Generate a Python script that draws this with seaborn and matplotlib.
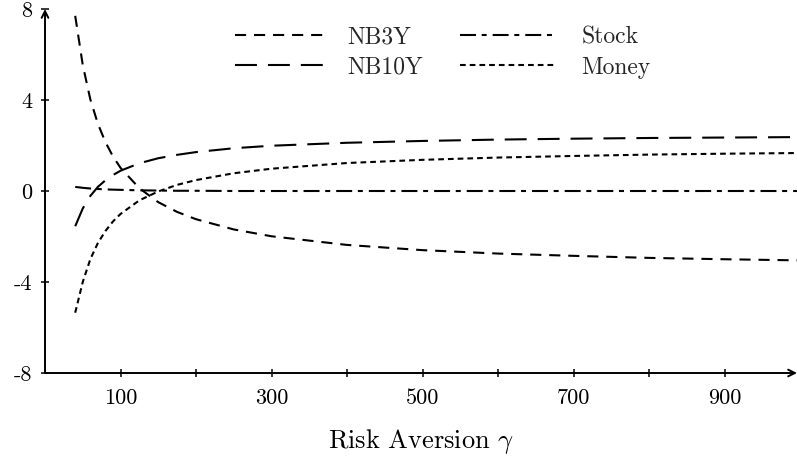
import numpy as np
import pandas as pd
import matplotlib
matplotlib.use("Agg")
import matplotlib.pyplot as plt
import seaborn as sns

# Data
gamma = [40, 50, 60, 70, 80, 90, 100, 125, 150, 175, 200, 250, 300, 400, 500, 600, 700, 800, 900, 1000]
nb3y = [7.7, 5.54, 4.03, 2.96, 2.15, 1.52, 1.02, 0.12, -0.49, -0.92, -1.24, -1.69, -1.99, -2.37, -2.60, -2.75, -2.85, -2.94, -3.00, -3.05]
nb10y = [-1.55, -0.77, -0.22, 0.18, 0.47, 0.70, 0.89, 1.22, 1.44, 1.59, 1.71, 1.88, 1.99, 2.12, 2.20, 2.26, 2.30, 2.33, 2.35, 2.37]
stock = [0.18, 0.14, 0.11, 0.09, 0.07, 0.06, 0.05, 0.03, 0.02, 0.01, 0.01, 0.0, 0.0, 0.0, 0.0, 0.0, 0.0, 0.0, 0.0, 0.0]
money = [-5.35, -4.0, -3.0, -2.29, -1.76, -1.34, -1.01, -0.41, -0.02, 0.27, 0.48, 0.78, 0.98, 1.23, 1.37, 1.47, 1.54, 1.60, 1.64, 1.67]

series_names = ["NB3Y", "NB10Y", "Stock", "Money"]
x_ticks = [100, 200, 300, 400, 500, 600, 700, 800, 900]
x_tick_labels = ["100", "", "300", "", "500", "", "700", "", "900"]
y_ticks = [-8, -4, 0, 4, 8]
y_tick_labels = ["-8", "-4", "0", "4", "8"]

df = pd.DataFrame({
    "gamma": gamma * 4,
    "value": nb3y + nb10y + stock + money,
    "series": sum([[n] * len(gamma) for n in series_names], []),
})

sns.set_theme(style="white")
plt.rcParams["font.family"] = ["cmr10", "DejaVu Sans"]
plt.rcParams["mathtext.fontset"] = "cm"
plt.rcParams["lines.scale_dashes"] = False
plt.rcParams["axes.unicode_minus"] = False

fig = plt.figure(figsize=(7.97, 4.59), dpi=100)
ax = fig.add_axes([45 / 797, 86 / 459, 752 / 797, 364 / 459])

dash_map = {
    "NB3Y": (8.0, 5.7),
    "NB10Y": (15.8, 7.9),
    "Stock": (11.5, 4.1, 3.6, 4.3),
    "Money": (4.1, 2.9),
}
sns.lineplot(data=df, x="gamma", y="value", style="series", style_order=series_names,
             dashes=dash_map, color="black", linewidth=1.5, legend=False, ax=ax)

ax.set_xlim(0, 996)
ax.set_ylim(-8, 8)
for s in ax.spines.values():
    s.set_visible(False)

# axes with arrows
ax.annotate("", xy=(1.0, 0), xytext=(0, 0), xycoords="axes fraction",
            arrowprops=dict(arrowstyle="->", lw=1.4, color="black", shrinkA=0, shrinkB=0))
ax.annotate("", xy=(0, 1.0), xytext=(0, 0), xycoords="axes fraction",
            arrowprops=dict(arrowstyle="->", lw=1.4, color="black", shrinkA=0, shrinkB=0))

ax.set_xticks(x_ticks)
ax.set_xticklabels(x_tick_labels)
ax.set_yticks(y_ticks)
ax.set_yticklabels(y_tick_labels)
ax.tick_params(axis="both", direction="inout", length=6, width=1.1, color="black",
               labelsize=16, labelcolor="black", bottom=True, left=True)
ax.tick_params(axis="x", pad=8)
ax.tick_params(axis="y", pad=6)
ax.grid(False)

ax.set_xlabel(r"Risk Aversion $\gamma$", fontsize=19, color="black", labelpad=14)
ax.set_ylabel("")

lines = ax.get_lines()[:4]
common = dict(frameon=False, fontsize=17, loc="upper left", bbox_transform=fig.transFigure,
              handlelength=4.0, labelspacing=0.35, borderpad=0, borderaxespad=0)
leg1 = ax.legend(lines[:2], series_names[:2], bbox_to_anchor=(235 / 797, 1 - 26 / 459),
                 handletextpad=0.75, **common)
ax.add_artist(leg1)
leg2 = ax.legend(lines[2:], series_names[2:], bbox_to_anchor=(460 / 797, 1 - 26 / 459),
                 handletextpad=1.15, **common)

fig.savefig("out.png", dpi=100)
